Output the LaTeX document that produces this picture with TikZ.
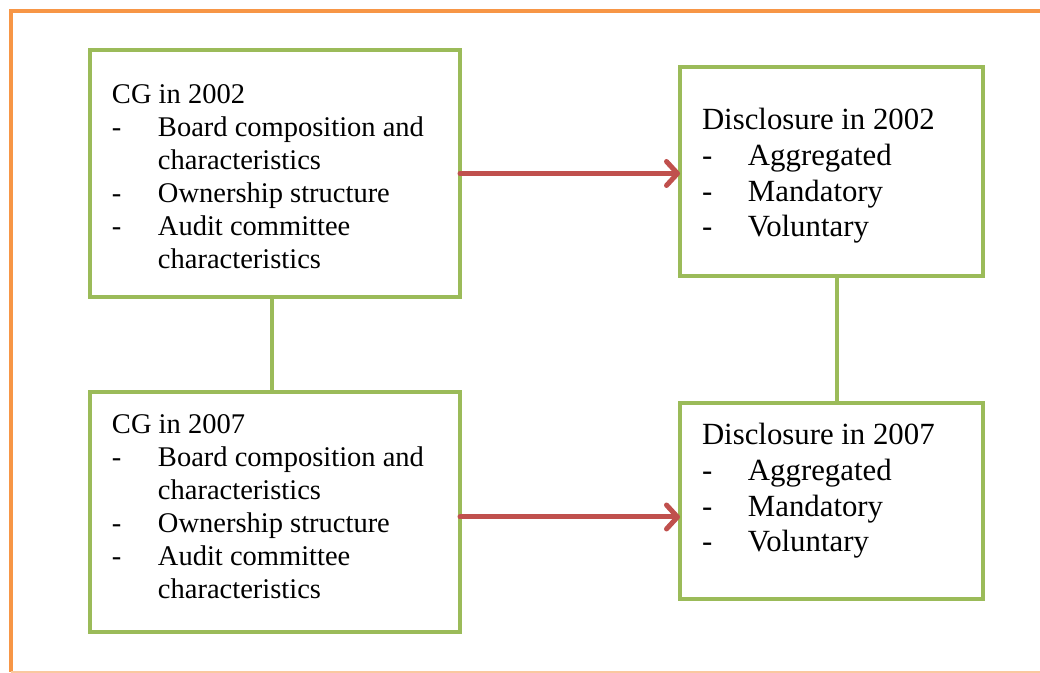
\documentclass[tikz,border=0pt]{standalone}
\usepackage{fontspec}
\setmainfont{Liberation Serif}
\usepackage{tikz}
\usetikzlibrary{positioning,arrows.meta}
\usepackage{xcolor}
\definecolor{boxgreen}{HTML}{9BBB59}
\definecolor{arrowred}{HTML}{C0504D}
\definecolor{frameorange}{HTML}{F79646}
\definecolor{framelight}{HTML}{FAC8A0}

\newcommand{\cglist}[1]{\fontsize{14.25}{16.5}\selectfont
  \begin{tabular}[t]{@{}p{23pt}@{}l@{}}
    \multicolumn{2}{@{}l@{}}{CG in #1}\\
    - & Board composition and\\
      & characteristics\\
    - & Ownership structure\\
    - & Audit committee\\
      & characteristics
  \end{tabular}}
\newcommand{\dislist}[1]{\fontsize{15.4}{17.8}\selectfont
  \begin{tabular}[t]{@{}p{23pt}@{}l@{}}
    \multicolumn{2}{@{}l@{}}{Disclosure in #1}\\
    - & Aggregated\\
    - & Mandatory\\
    - & Voluntary
  \end{tabular}}

\begin{document}
\begin{tikzpicture}[x=0.5pt,y=-0.5pt,
    gbox/.style={draw=boxgreen,line width=2pt,outer sep=0pt,inner sep=0pt},
    txt/.style={anchor=base west,inner sep=0pt,outer sep=0pt},
    link/.style={draw=boxgreen,line width=2pt},
    flow/.style={draw=arrowred,line width=2.5pt,line cap=round,
      -{Straight Barb[length=5.5pt,width=12pt,line cap=round,line join=round]}}]
    \useasboundingbox (0,0) rectangle (1040,673);
    % outer frame (cut off on the right)
    \draw[frameorange,line width=2pt] (11,672) -- (11,11) -- (1040,11);
    \draw[framelight,line width=0.8pt] (11,672) -- (1040,672);
    % boxes
    \node[gbox,minimum width=185pt,minimum height=123.5pt] (cg02) at (275,173.5) {};
    \node[gbox,minimum width=185pt,minimum height=120pt] (cg07) at (275,512) {};
    \node[gbox,minimum width=151.5pt,minimum height=104.5pt] (dis02) at (831.5,171.5) {};
    \node[gbox,minimum width=151.5pt,minimum height=98pt] (dis07) at (831.5,501) {};
    % texts
    \node[txt] (cg02txt) at ([xshift=11pt,yshift=-27pt]cg02.north west) {\cglist{2002}};
    \node[txt] (cg07txt) at ([xshift=11pt,yshift=-21pt]cg07.north west) {\cglist{2007}};
    \node[txt] (dis02txt) at ([xshift=11pt,yshift=-31.5pt]dis02.north west) {\dislist{2002}};
    \node[txt] (dis07txt) at ([xshift=11pt,yshift=-21pt]dis07.north west) {\dislist{2007}};
    % connectors
    \draw[link] ([xshift=-1.5pt]cg02.south) -- ([xshift=-1.5pt]cg07.north);
    \draw[link] ([xshift=2.75pt]dis02.south) -- ([xshift=2.75pt]dis07.north);
    \draw[flow] (cg02.east) -- (cg02.east -| dis02.west);
    \draw[flow] ([yshift=-2.5pt]cg07.east) -- ([yshift=-2.5pt]cg07.east -| dis07.west);
  \end{tikzpicture}
\end{document}
